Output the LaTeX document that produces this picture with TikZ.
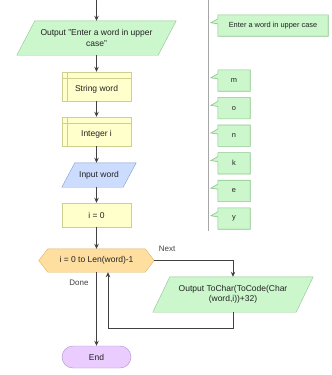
\documentclass[tikz,border=0pt]{standalone}
\usepackage{fontspec}
\setmainfont{Liberation Sans}
\usetikzlibrary{arrows.meta,calc,backgrounds}
\definecolor{gf}{HTML}{CCF7CC}
\definecolor{gb}{HTML}{8CC48C}
\definecolor{yf}{HTML}{FFFFCC}
\definecolor{yb}{HTML}{CFCF8F}
\definecolor{bf}{HTML}{CCDCFF}
\definecolor{bb}{HTML}{7F9CD6}
\definecolor{of}{HTML}{FFDFA0}
\definecolor{ob}{HTML}{DDB060}
\definecolor{pf}{HTML}{EACCFF}
\definecolor{pb}{HTML}{B08FD0}
\definecolor{ln}{HTML}{404040}
\definecolor{tx}{HTML}{222222}
\begin{document}
\begin{tikzpicture}[x=1pt,y=-1pt,
  base/.style={inner sep=0pt, text=tx, align=center, font=\fontsize{8.5}{10.5}\selectfont},
  decl/.style={base, draw=yb, fill=yf, minimum width=69pt, minimum height=29pt, text height=12pt, text depth=2pt},
  proc/.style={base, draw=yb, fill=yf, minimum width=69pt, minimum height=24pt},
  iobox/.style={base, minimum width=#1},
  term/.style={base, draw=pb, fill=pf, rounded corners=11pt, minimum width=69pt, minimum height=22pt},
  loopbox/.style={base, minimum width=115pt, minimum height=23pt},
  arr/.style={draw=ln, line width=1pt, -{Stealth[length=5pt,width=4.5pt]}},
  lbl/.style={inner sep=0pt, text=ln, font=\fontsize{8}{10}\selectfont},
  callout/.style={inner sep=0pt, text=tx, font=\fontsize{7.4}{9}\selectfont, minimum height=21pt},
  cshape/.style={draw=gb, fill=gf, line width=0.6pt}
]
\useasboundingbox (0,0) rectangle (332,375);

% ---- main flow nodes
\coordinate (start) at (96.5,0);
\node[iobox=159pt, minimum height=34pt] (o1) at (96.5,38) {Output "Enter a word in upper\\case"};
\node[decl] (sw) at (96.5,86.5) {String word};
\node[decl] (iw) at (96.5,131.5) {Integer i};
\node[iobox=74pt, minimum height=24pt] (inw) at (99,175) {Input word};
\node[proc] (i0) at (96.5,215) {i = 0};
\node[loopbox] (loop) at (96.5,260.5) {i = 0 to Len(word)-1};
\node[term] (end) at (96.5,357) {End};
\node[iobox=160pt, minimum height=35pt] (o2) at (233,294.5) {Output ToChar(ToCode(Char\\(word,i))+32)};

\begin{scope}[on background layer]
  \draw[draw=gb, fill=gf] ([xshift=18pt]o1.north west) -- (o1.north east) -- ([xshift=-18pt]o1.south east) -- (o1.south west) -- cycle;
  \draw[draw=bb, fill=bf] ([xshift=13pt]inw.north west) -- (inw.north east) -- ([xshift=-13pt]inw.south east) -- (inw.south west) -- cycle;
  \draw[draw=gb, fill=gf] ([xshift=17pt]o2.north west) -- (o2.north east) -- ([xshift=-17pt]o2.south east) -- (o2.south west) -- cycle;
  \draw[draw=ob, fill=of] (loop.west) -- ([xshift=9pt]loop.north west) -- ([xshift=-9pt]loop.north east) -- (loop.east) -- ([xshift=-9pt]loop.south east) -- ([xshift=9pt]loop.south west) -- cycle;
\end{scope}
\foreach \n in {sw,iw}{
  \draw[yb] ([xshift=5.5pt]\n.north west) -- ([xshift=5.5pt]\n.south west);
  \draw[yb] ([yshift=-6pt]\n.north west) -- ([yshift=-6pt]\n.north east);
}

% ---- connectors
\draw[arr] (start) -- (o1.north);
\draw[arr] (o1.south) -- (sw.north);
\draw[arr] (sw.south) -- (iw.north);
\draw[arr] (iw.south) -- (iw.south |- inw.north);
\draw[arr] (i0.north |- inw.south) -- (i0.north);
\draw[arr] (i0.south) -- (loop.north);
\draw[arr] (loop.south) -- (end.north);
\draw[arr] (loop.east) -| (o2.north);
\coordinate (back) at (108,328);
\draw[arr] (o2.south) |- (back) -- (back |- loop.south);
\node[lbl] (next) at (167,249) {Next};
\node[lbl] (done) at (79,283) {Done};

% ---- right panel
\coordinate (pt) at (208,0);
\coordinate (pb) at (208,231);
\draw[draw=gray!70, line width=0.8pt] (pt) -- (pb);

\node[callout, minimum width=110pt] (c0) at (273,25.5) {Enter a word in upper case};
\foreach \t/\yy [count=\k] in {m/80.5,o/108.1,n/135.7,k/163.3,e/190.9,y/218.5}{
  \node[callout, minimum width=32pt] (c\k) at (234,\yy) {\t};
}
\begin{scope}[on background layer]
\foreach \n in {c0,c1,c2,c3,c4,c5,c6}{
  \draw[cshape] (\n.north west) -- (\n.north east) -- (\n.south east) -- (\n.south west)
    -- ([yshift=-9pt]\n.north west) -- ([xshift=-7pt,yshift=-8pt]\n.north west) -- ([yshift=-4pt]\n.north west) -- cycle;
}
\end{scope}
\end{tikzpicture}
\end{document}
